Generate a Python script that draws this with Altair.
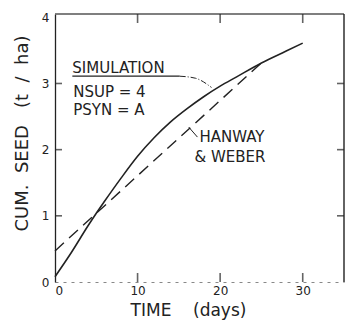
import altair as alt
import pandas as pd

# ---- data ----
sim_day = [0, 2, 4, 5, 6, 8, 10, 12, 14, 16, 18, 20, 22, 25, 28, 30]
sim_val = [0.08, 0.45, 0.85, 1.04, 1.22, 1.57, 1.9, 2.18, 2.42, 2.62, 2.8, 2.96, 3.1, 3.31, 3.49, 3.61]

hw_day = [0, 24.9]
hw_val = [0.47, 3.30]

x_ticks = [10, 20, 30]
y_ticks = [1, 2, 3]

ann_text = ["SIMULATION", "NSUP = 4", "PSYN = A", "HANWAY", "& WEBER"]
ann_day = [2.1, 2.2, 2.2, 17.5, 16.9]
ann_val = [3.16, 2.79, 2.52, 2.11, 1.81]

underline_day = [2.1]
underline_day2 = [15.1]
underline_val = [3.11]

sim_leader_day = [15.1, 17.0, 18.95]
sim_leader_val = [3.11, 3.08, 2.94]
hw_leader_day = [16.2, 17.25]
hw_leader_val = [2.34, 2.19]

W, H = 289, 268
X_MAX, Y_MAX = 35, 4.05
FONT = "DejaVu Sans"
INK = "#222222"
NB = "\u00a0"

xscale = alt.Scale(domain=[0, X_MAX], nice=False, zero=False)
yscale = alt.Scale(domain=[0, Y_MAX], nice=False, zero=False)
xaxis = alt.Axis(values=[0, 10, 20, 30], format="d", tickSize=0, labelPadding=3,
                 labelFont=FONT, labelFontSize=12, labelColor=INK,
                 domainColor="#888888", domainDash=[3, 5], domainWidth=1.2,
                 grid=False, title="TIME" + NB * 4 + "(days)", titleFont=FONT, titleFontSize=17,
                 titleFontWeight="normal", titleColor=INK, titleX=133, titleY=33,
                 titleAlign="center", titleBaseline="alphabetic")
yaxis = alt.Axis(values=[0, 1, 2, 3, 4], format="d", tickSize=0, labelPadding=6,
                 labelFont=FONT, labelFontSize=12, labelColor=INK,
                 domainColor=INK, domainWidth=1.3, grid=False,
                 title="CUM." + NB * 2 + "SEED" + NB * 3 + "(t" + NB * 2 + "/" + NB * 2 + "ha)",
                 titleFont=FONT, titleFontSize=18,
                 titleFontWeight="normal", titleColor=INK, titleAngle=270,
                 titleX=-33, titleY=119, titleAlign="center", titleBaseline="middle")


def X(f):
    return alt.X(f, type="quantitative", scale=xscale, axis=xaxis)


def Y(f):
    return alt.Y(f, type="quantitative", scale=yscale, axis=yaxis)


def Xn(f):
    return alt.X(f, type="quantitative", scale=xscale, axis=None)


def Yn(f):
    return alt.Y(f, type="quantitative", scale=yscale, axis=None)


sim_df = pd.DataFrame({"day": sim_day, "val": sim_val})
hw_df = pd.DataFrame({"day": hw_day, "val": hw_val})

sim = alt.Chart(sim_df).mark_line(color=INK, strokeWidth=1.6, interpolate="monotone").encode(
    x=X("day"), y=Y("val"))
hw = alt.Chart(hw_df).mark_line(color=INK, strokeWidth=1.4, strokeDash=[12, 7]).encode(
    x=X("day"), y=Y("val"))

ann = alt.Chart(pd.DataFrame({"day": ann_day, "val": ann_val, "t": ann_text})).mark_text(
    align="left", baseline="alphabetic", font=FONT, fontSize=15, color=INK).encode(
    x=X("day"), y=Y("val"), text="t:N")

under = alt.Chart(pd.DataFrame({"day": underline_day, "day2": underline_day2, "val": underline_val})).mark_rule(
    color=INK, strokeWidth=1.2).encode(x=X("day"), x2="day2:Q", y=Y("val"))

sim_lead = alt.Chart(pd.DataFrame({"day": sim_leader_day, "val": sim_leader_val})).mark_line(
    color=INK, strokeWidth=1, strokeDash=[6, 2, 1, 2], interpolate="monotone").encode(
    x=X("day"), y=Y("val"))
hw_lead = alt.Chart(pd.DataFrame({"day": hw_leader_day, "val": hw_leader_val})).mark_line(
    color=INK, strokeWidth=1).encode(x=X("day"), y=Y("val"))

top_border = alt.Chart(pd.DataFrame({"fx1": [0.0], "fx2": [X_MAX], "fy": [Y_MAX]})).mark_rule(
    color="#555555", strokeWidth=1.6).encode(x=X("fx1"), x2="fx2:Q", y=Y("fy"))
right_border = alt.Chart(pd.DataFrame({"fx": [X_MAX], "fy1": [0.0], "fy2": [Y_MAX]})).mark_rule(
    color=INK, strokeWidth=1.4).encode(x=X("fx"), y=Y("fy1"), y2="fy2:Q")

# inward tick marks, built from the tick lists (in their own layer, without axes)
TXH = 3.5 * X_MAX / W   # half tick length (px -> data units) along x
TYH = 4.5 * Y_MAX / H   # half tick length (px -> data units) along y
nx, ny = len(x_ticks), len(y_ticks)
bt = pd.DataFrame({"bx": x_ticks, "by": [TYH] * nx})
tt = pd.DataFrame({"tx": x_ticks, "ty": [Y_MAX - TYH] * nx})
lt = pd.DataFrame({"ly": y_ticks, "lx": [TXH] * ny})
rt = pd.DataFrame({"ry": y_ticks, "rx": [X_MAX - TXH] * ny})

bot_ticks = alt.Chart(bt).mark_tick(color=INK, thickness=1.6, size=9, orient="vertical").encode(
    x=Xn("bx"), y=Yn("by"))
top_ticks = alt.Chart(tt).mark_tick(color=INK, thickness=1.6, size=9, orient="vertical").encode(
    x=Xn("tx"), y=Yn("ty"))
left_ticks = alt.Chart(lt).mark_tick(color=INK, thickness=1.6, size=7, orient="horizontal").encode(
    x=Xn("lx"), y=Yn("ly"))
right_ticks = alt.Chart(rt).mark_tick(color=INK, thickness=1.6, size=7, orient="horizontal").encode(
    x=Xn("rx"), y=Yn("ry"))

main = alt.layer(hw, sim, under, sim_lead, hw_lead, ann, top_border, right_border)
deco = alt.layer(bot_ticks, top_ticks, left_ticks, right_ticks)

chart = alt.layer(main, deco).resolve_axis(x="independent", y="independent").properties(
    width=W, height=H,
    autosize=alt.AutoSizeParams(type="none"),
    padding={"left": 55, "top": 14, "right": 3, "bottom": 44},
    background="white",
).configure_view(stroke=None)

chart.save("out.html", embed_options={"renderer": "svg", "actions": False})
